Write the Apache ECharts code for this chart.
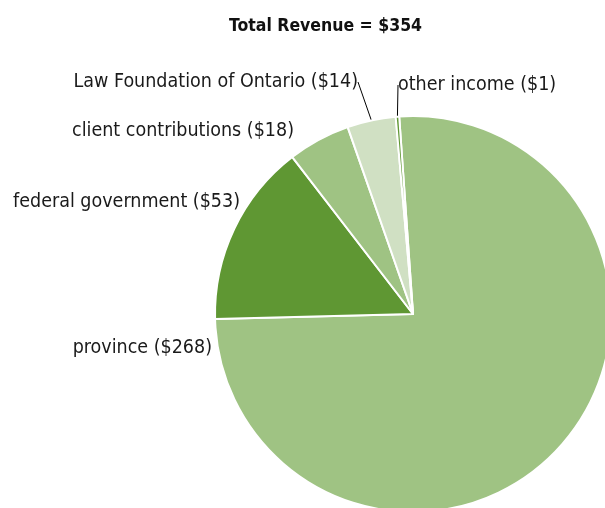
<!DOCTYPE html>
<html>
<head>
<meta charset="utf-8">
<script src="https://cdn.jsdelivr.net/npm/echarts@6/dist/echarts.min.js"></script>
<style>
html, body { margin: 0; padding: 0; background: #fff; }
#chart { width: 605px; height: 508px; }
</style>
</head>
<body>
<div id="chart"></div>
<script>
// revenue sources, clockwise from the top
var names = ['province', 'federal government', 'client contributions', 'Law Foundation of Ontario', 'other income'];
var values = [268, 53, 18, 14, 1];
var colors = ['#9fc383', '#5f9733', '#9fc383', '#d0e0c3', '#5f9733'];

// where each label sits (manual, like the original)
var labelPos = [
  { x: 212, y: 348, align: 'right' },
  { x: 240, y: 202, align: 'right' },
  { x: 294, y: 131, align: 'right' },
  { x: 358, y: 82, align: 'right' },
  { x: 398, y: 85, align: 'left' }
];
var withLine = [false, false, false, true, true];

var font = '"DejaVu Sans Condensed", sans-serif';

var pieData = names.map(function (n, i) {
  return {
    name: n,
    value: values[i],
    itemStyle: { color: colors[i] },
    labelLine: { show: withLine[i] }
  };
});

var chart = echarts.init(document.getElementById('chart'));
var option = {
  animation: false,
  title: {
    text: 'Total Revenue = $' + values.reduce(function (a, b) { return a + b; }, 0),
    left: 224,
    top: 12,
    textStyle: { fontFamily: font, fontWeight: 'bold', fontSize: 17.5, color: '#111' }
  },
  series: [
    {
      type: 'pie',
      center: [413, 314],
      radius: 198,
      startAngle: 94,
      clockwise: true,
      itemStyle: { borderColor: '#fff', borderWidth: 2 },
      label: {
        show: true,
        formatter: '{b} (${c})',
        fontFamily: font,
        fontSize: 19.5,
        color: '#1a1a1a',
        overflow: 'none'
      },
      labelLine: {
        show: true,
        length: 10,
        length2: 0,
        lineStyle: { color: '#000', width: 1 }
      },
      labelLayout: function (params) {
        var p = labelPos[params.dataIndex];
        return { x: p.x, y: p.y, align: p.align, verticalAlign: 'middle' };
      },
      data: pieData
    }
  ]
};
chart.setOption(option);
</script>
</body>
</html>
